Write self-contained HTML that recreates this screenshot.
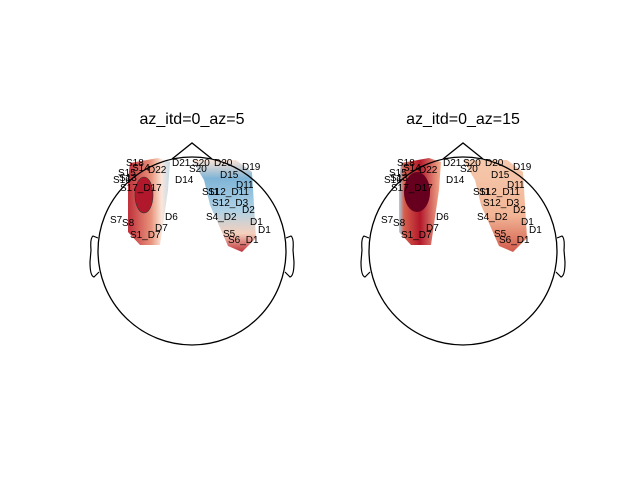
<!DOCTYPE html>
<html><head><meta charset="utf-8"><style>
body{margin:0;background:#fff}
svg text{font-family:"Liberation Sans",sans-serif}
</style></head><body>
<svg width="640" height="480" viewBox="0 0 640 480">
<defs>
<linearGradient id="gBlueRed" x1="0" y1="0" x2="0" y2="1">
<stop offset="0" stop-color="#fbe3d6"/><stop offset="0.2" stop-color="#7fb4d6"/><stop offset="0.55" stop-color="#b0d2e6"/><stop offset="0.8" stop-color="#f5d0bc"/><stop offset="1" stop-color="#c0343a"/></linearGradient>
<linearGradient id="gRedL" x1="0" y1="0" x2="1" y2="0">
<stop offset="0" stop-color="#c0303a"/><stop offset="0.55" stop-color="#e8937c"/><stop offset="0.8" stop-color="#fbe6da"/><stop offset="1" stop-color="#c3dbea"/></linearGradient>
<linearGradient id="gOrange" x1="0" y1="0" x2="0" y2="1">
<stop offset="0" stop-color="#f6c9ad"/><stop offset="0.6" stop-color="#f2b596"/><stop offset="1" stop-color="#d25b4c"/></linearGradient>
<linearGradient id="gRedR" x1="0" y1="0" x2="1" y2="0">
<stop offset="0" stop-color="#a9cfe3"/><stop offset="0.12" stop-color="#d6604d"/><stop offset="0.5" stop-color="#b2182b"/><stop offset="1" stop-color="#f4b090"/></linearGradient>
</defs>
<g id="heads"></g>
</svg>
<script>
const titles=["az_itd=0_az=5","az_itd=0_az=15"];
const centers=[192,463];
const cy=251, R=94;
const labels=[["S18",-66,-85],["D21",-20,-85],["S20",0,-85],["S20",-3,-79],["D19",50,-81],["S16",-79,-68],["D14",-17,-68],["S17_D17",-72,-60],["S11",10,-56],["S12_D11",16,-56],["S12_D3",20,-45],["D2",50,-38],["S4_D2",14,-31],["D6",-27,-31],["S7",-82,-28],["S8",-70,-25],["D7",-37,-20],["S1_D7",-62,-13],["D1",58,-26],["D1",66,-18],["S5",31,-14],["S6_D1",36,-8],["S15",-74,-75],["D15",28,-73],["S13",-73,-70],["D11",44,-63],["D20",22,-85],["D22",-44,-78],["S14",-60,-80]];
const g=document.getElementById('heads');
const NS="http://www.w3.org/2000/svg";
function el(t,a,p){const e=document.createElementNS(NS,t);for(const k in a)e.setAttribute(k,a[k]);(p||g).appendChild(e);return e;}
centers.forEach((cx,i)=>{
 const h=el('g',{});
 
 
 const t=el('text',{x:cx,y:124,'text-anchor':'middle','font-size':16,fill:'#000'},h);t.textContent=titles[i];
 
 
 const o=cx-192;
 const p1=el('polygon',{points:[[130,163],[158,158],[170,162],[168,190],[160,245],[140,245],[128,232],[128,180]].map(q=>(q[0]+o)+','+q[1]).join(' '),fill:i?'url(#gRedR)':'url(#gRedL)'},h);
 
 
 if(i){const e=el('ellipse',{cx:cx-46,cy:192,rx:13,ry:20,fill:'#67001f'},h);}
 else{const e=el('ellipse',{cx:cx-48,cy:195,rx:9,ry:18,fill:'#b2182b',stroke:'#333','stroke-width':0.6},h);}
 const p2=el('polygon',{points:[[192,160],[236,160],[252,172],[256,238],[242,252],[228,246],[210,205],[204,180]].map(q=>(q[0]+o)+','+q[1]).join(' '),fill:i?'url(#gOrange)':'url(#gBlueRed)'},h);
 
 
 const head=el('circle',{cx:cx,cy:cy,r:R,fill:'none',stroke:'#000','stroke-width':1.3},h);
 
 const nose=el('polyline',{points:`${cx-20},${cy-R+2} ${cx},143 ${cx+20},${cy-R+2}`,fill:'none',stroke:'#000','stroke-width':1.3},h);
 
 const le=el('path',{d:`M${cx-R},238 L${cx-99},236 Q${cx-102},238 ${cx-101},250 L${cx-102},262 Q${cx-102},276 ${cx-98},277 L${cx-R+1},272`,fill:'none',stroke:'#000','stroke-width':1.2},h);
 
 const re=el('path',{d:`M${cx+R},238 L${cx+99},236 Q${cx+102},238 ${cx+101},250 L${cx+102},262 Q${cx+102},276 ${cx+98},277 L${cx+R-1},272`,fill:'none',stroke:'#000','stroke-width':1.2},h);
 
 labels.forEach(l=>{const tx=el('text',{x:cx+l[1],y:cy+l[2],'font-size':10,fill:'#000'},h);tx.textContent=l[0];
  
  });
});
</script>
</body></html>
